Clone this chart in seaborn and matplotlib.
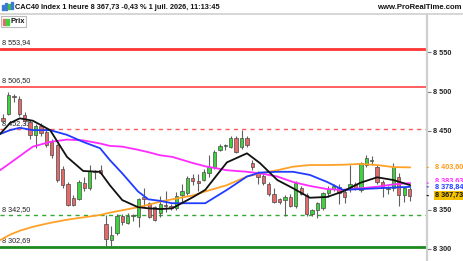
import pandas as pd
import seaborn as sns
import matplotlib.pyplot as plt
from matplotlib.patches import Rectangle

# hourly candles
opens = [8467, 8472, 8494, 8491, 8470, 8461, 8445, 8456, 8449, 8436,
         8432, 8402, 8383, 8365, 8364, 8384, 8377, 8399, 8400, 8331,
         8311, 8320, 8342, 8333, 8342, 8341, 8366, 8358, 8353, 8345,
         8355, 8355, 8352, 8369, 8371, 8390.5, 8386.7, 8387.6, 8396, 8404,
         8425.7, 8431, 8430, 8440.6, 8429, 8440.6, 8408.8, 8396, 8392.7, 8383,
         8369.8, 8363, 8362, 8366, 8354.5, 8377.4, 8368.5, 8344.4, 8350, 8351.6,
         8370.7, 8375.7, 8379, 8372, 8375.7, 8382, 8374.8, 8406.6, 8412, 8404.5,
         8385, 8376, 8377, 8392, 8369, 8376]
highs = [8472, 8499, 8497, 8494, 8474, 8464, 8459, 8460, 8452, 8440,
         8434, 8406, 8385, 8368, 8388, 8392, 8407, 8400, 8407, 8343,
         8329, 8344, 8344, 8345, 8344, 8365, 8377, 8360, 8355, 8367,
         8373, 8357, 8372, 8382, 8393, 8395, 8395, 8402, 8419, 8426,
         8433, 8433, 8444, 8444, 8451, 8444, 8413, 8399, 8395, 8385,
         8378, 8365, 8368, 8370, 8386, 8380, 8371, 8351, 8360, 8372,
         8380, 8383, 8382, 8375, 8406.6, 8385, 8411, 8419, 8418, 8407,
         8388, 8380, 8409, 8396, 8379, 8379]
lows = [8460, 8470, 8487, 8469, 8458, 8440, 8428, 8443, 8429, 8415,
        8385, 8378, 8354, 8354, 8362, 8374, 8375, 8389, 8395, 8303,
        8303, 8318, 8330, 8331, 8336, 8328, 8353, 8339, 8335, 8340,
        8347, 8350, 8350, 8359, 8369, 8381, 8374, 8386, 8392, 8402,
        8424, 8426, 8428, 8422, 8427, 8430, 8400, 8382, 8381, 8367,
        8358, 8357, 8342, 8353, 8352, 8368, 8342, 8342, 8339, 8349,
        8366, 8373, 8357, 8358, 8372, 8375, 8372, 8404, 8407, 8383,
        8366, 8370, 8374, 8355, 8359, 8361]
closes = [8463, 8496, 8493, 8472, 8462, 8445, 8456, 8447, 8432, 8419,
          8388, 8381, 8356, 8356, 8385, 8377, 8399, 8398, 8397, 8312,
          8318, 8342, 8334, 8342, 8342.5, 8363, 8364, 8341, 8337, 8357,
          8354.5, 8352, 8367, 8373, 8390, 8386.7, 8384, 8398, 8404.5, 8423.5,
          8430.8, 8431.5, 8440.6, 8423.6, 8440.6, 8432, 8403.7, 8391, 8383.4, 8369.8,
          8360, 8360, 8366, 8354.5, 8384, 8370, 8344.4, 8349.4, 8357.7, 8370.7,
          8375.7, 8380, 8370.7, 8366.3, 8382, 8377, 8409.6, 8415, 8413, 8385.4,
          8379, 8378, 8404.5, 8368.5, 8377, 8367.73]

# moving averages, sampled along the chart (candle index positions)
ma_pos = [-0.55, 1.3, 3.1, 5.5, 8.7, 11.8, 14.8, 17.9, 19.7, 22.0, 24.9, 26.8, 29.0, 31.2,
          35.1, 37.3, 41.3, 45.0, 47.4, 50.6, 53.5, 56.6, 59.8, 62.7, 65.9, 69.0, 72.0, 75.1]
ma_black = [8446, 8460, 8466, 8463, 8451, 8417, 8399, 8398, 8381, 8362, 8353, 8351.5, 8350.6, 8351.5,
            8366, 8375, 8410, 8421.5, 8409, 8387.5, 8377, 8365, 8366, 8373, 8384, 8391, 8387.5, 8381]
ma_blue = [8446, 8451, 8454, 8451, 8451, 8445, 8436, 8428, 8413, 8396, 8373, 8363, 8361, 8358,
           8358, 8358, 8375, 8392, 8397, 8398, 8398, 8394, 8385, 8375, 8376, 8377, 8378, 8378.84]
ma_magenta = [8400, 8409, 8418, 8430, 8436, 8439, 8438, 8434, 8431, 8430, 8426, 8423, 8419, 8417,
              8409, 8405, 8400, 8398, 8396, 8392, 8385, 8380, 8376, 8375, 8377, 8379, 8382, 8383.63]
ma_orange = [8311, 8318, 8323, 8328, 8333, 8337, 8340, 8343, 8346, 8349, 8353, 8356, 8360, 8363,
             8368, 8373, 8381, 8392, 8396, 8400, 8404.5, 8406.6, 8406.6, 8407, 8408, 8406.6, 8404, 8403.6]

levels = [8553.94, 8506.50, 8452.33, 8342.50, 8302.69]
level_labels = ['8 553,94', '8 506,50', '8 452,33', '8 342,50', '8 302,69']
level_colors = ['#ff3333', '#ff3333', '#ff5a5a', '#33aa33', '#1e8a1e']
level_styles = ['-', '-', (0, (3, 3)), (0, (3, 3)), '-']
level_widths = [2.0, 1.1, 1.0, 1.0, 2.0]

yticks = [8300, 8350, 8450, 8500, 8550]
ytick_labels = ['8 300', '8 350', '8 450', '8 500', '8 550']

sns.set_theme(style="white")
plt.rcParams['font.family'] = ['Liberation Sans', 'DejaVu Sans']

fig = plt.figure(figsize=(4.64, 2.61), dpi=100)
ax = fig.add_axes([0, 0, 427 / 464, 246 / 261])

# support / resistance levels
for lv, lab, col, ls, lw in zip(levels, level_labels, level_colors, level_styles, level_widths):
    ax.axhline(lv, color=col, ls=ls, lw=lw, zorder=1)
    ax.annotate(lab, xy=(0.005, lv), xycoords=('axes fraction', 'data'),
                xytext=(0, lw / 2 + 1), textcoords='offset points',
                fontsize=5.2, color='#222222', va='bottom', ha='left', zorder=1)

# candles
df = pd.DataFrame({'o': opens, 'h': highs, 'l': lows, 'c': closes})
df['i'] = range(len(df))
up = df['c'] >= df['o']
ax.vlines(df['i'], df['l'], df['h'], color='#606060', lw=0.8, zorder=3)
body_lo = df[['o', 'c']].min(axis=1)
body_h = (df['c'] - df['o']).abs().clip(lower=0.8)
ax.bar(df['i'], body_h, bottom=body_lo, width=0.62,
       color=['#3fd23f' if u else '#e46a6a' for u in up],
       edgecolor='#4a4a4a', linewidth=0.5, zorder=4)

# moving averages
for vals, col in [(ma_orange, '#ffa126'), (ma_magenta, '#ff2bff'),
                  (ma_blue, '#1f3cff'), (ma_black, '#111111')]:
    sns.lineplot(x=ma_pos, y=vals, ax=ax, color=col, lw=1.3, sort=False,
                 estimator=None, zorder=5)

ax.set_xlim(-0.55, 78.2)
ax.set_ylim(8284.5, 8597.5)
ax.set_xticks([])
ax.yaxis.tick_right()
ax.set_yticks(yticks)
ax.set_yticklabels(ytick_labels, fontsize=5.2, fontweight='bold', color='#222222')
ax.tick_params(axis='y', length=3, width=0.8, color='#777777', pad=1.5, right=True)
for s in ['left', 'top', 'bottom']:
    ax.spines[s].set_visible(False)
ax.spines['right'].set_color('#cfcfcf')
ax.spines['right'].set_linewidth(1.6)

# price tags on the right axis (value, text, colour, background, nudge in points)
tags = [(8403.60, '8 403,60', '#ff9a1a', 'white', 0),
        (8383.63, '8 383,63', '#ff2bff', 'white', 1.2),
        (8378.84, '8 378,84', '#1f3cff', 'white', 0),
        (8367.73, '8 367,73', '#111111', '#f2c200', 0)]
for val, txt, col, bg, dy in tags:
    ax.annotate(txt, xy=(1.0, val), xycoords=('axes fraction', 'data'),
                xytext=(6, dy), textcoords='offset points', fontsize=5.2,
                fontweight='bold', color=col, va='center', ha='left',
                annotation_clip=False,
                bbox=dict(boxstyle='square,pad=0.15', fc=bg, ec='none'))
    ax.annotate('', xy=(1.0, val), xycoords=('axes fraction', 'data'),
                xytext=(3, 0), textcoords='offset points', annotation_clip=False,
                arrowprops=dict(arrowstyle='-', color=col, lw=0.8))

# header
fig.add_artist(plt.Line2D([0, 1], [1 - 14 / 261, 1 - 14 / 261], color='#cfcfcf', lw=1.2))
fig.text(15 / 464, 1 - 7.5 / 261, 'CAC40 Index 1 heure 8 367,73 -0,43 % 1 juil. 2026, 11:13:45',
         fontsize=5.35, fontweight='bold', color='#111111', va='center', ha='left')
fig.text(462 / 464, 1 - 7.5 / 261, 'www.ProRealTime.com', fontsize=5.6,
         fontweight='bold', color='#111111', va='center', ha='right')
for x0, y0, h, c in [(2, 5, 5, '#3a7bd5'), (5, 3, 7, '#3a7bd5'), (8, 4, 5, '#3fbf3f'), (11, 2, 7, '#3a7bd5')]:
    fig.add_artist(Rectangle((x0 / 464, 1 - (y0 + h) / 261), 1.6 / 464, h / 261,
                             transform=fig.transFigure, color=c))

# legend box
fig.add_artist(Rectangle((0.5 / 464, 1 - 27 / 261), 26 / 464, 11 / 261, transform=fig.transFigure,
                         fc='white', ec='#bbbbbb', lw=0.8, zorder=10))
fig.add_artist(Rectangle((3 / 464, 1 - 24.5 / 261), 3 / 464, 6 / 261, transform=fig.transFigure,
                         color='#e46a6a', zorder=11))
fig.add_artist(Rectangle((6 / 464, 1 - 24.5 / 261), 3 / 464, 6 / 261, transform=fig.transFigure,
                         color='#3fd23f', zorder=11))
fig.text(11 / 464, 1 - 21.5 / 261, 'Prix', fontsize=5.5, fontweight='bold', color='#111111',
         va='center', ha='left', zorder=11)

fig.savefig('out.png', dpi=100)
